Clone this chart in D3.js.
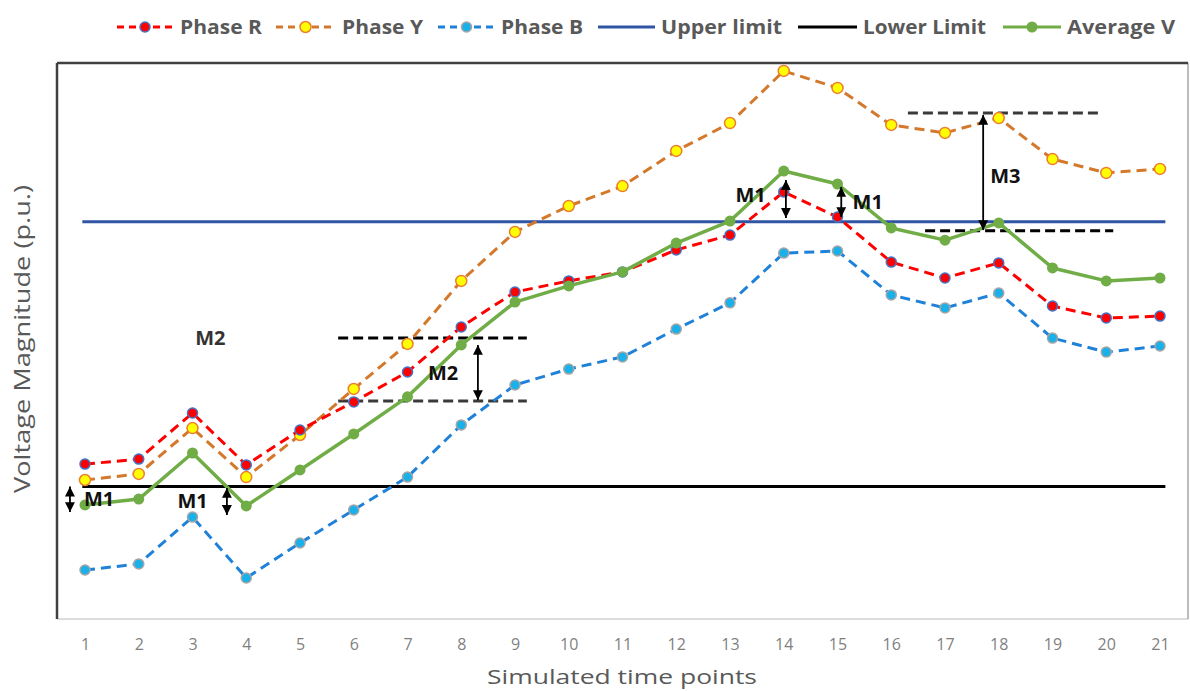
<!DOCTYPE html>
<html>
<head>
<meta charset="utf-8">
<script src="https://cdn.jsdelivr.net/npm/d3@7/dist/d3.min.js"></script>
<style>
  html, body { margin: 0; padding: 0; background: #fff; }
  svg { display: block; }
</style>
</head>
<body>
<svg id="chart" width="1190" height="691"></svg>
<script>
// ---------- data ----------
const timePoints = d3.range(1, 22);
const phaseR = [0.9585, 0.9604, 0.9778, 0.9582, 0.9714, 0.9820, 0.9933, 1.0103, 1.0235, 1.0277, 1.0311,
                1.0394, 1.0450, 1.0613, 1.0518, 1.0348, 1.0288, 1.0345, 1.0182, 1.0137, 1.0144];
const phaseY = [0.9525, 0.9548, 0.9721, 0.9536, 0.9695, 0.9869, 1.0039, 1.0277, 1.0462, 1.0560, 1.0635,
                1.0768, 1.0873, 1.1070, 1.1006, 1.0866, 1.0836, 1.0892, 1.0737, 1.0685, 1.0700];
const phaseB = [0.9185, 0.9208, 0.9385, 0.9155, 0.9287, 0.9412, 0.9536, 0.9733, 0.9884, 0.9944, 0.9990,
                1.0095, 1.0194, 1.0382, 1.0390, 1.0224, 1.0175, 1.0231, 1.0061, 1.0008, 1.0031];
const averageV = [0.9431, 0.9453, 0.9627, 0.9427, 0.9563, 0.9699, 0.9839, 1.0035, 1.0197, 1.0258, 1.0311,
                  1.0420, 1.0503, 1.0692, 1.0643, 1.0477, 1.0431, 1.0496, 1.0326, 1.0277, 1.0288];
const upperLimit = 1.05;
const lowerLimit = 0.95;
const legendLabels = ["Phase R", "Phase Y", "Phase B", "Upper limit", "Lower Limit", "Average V"];
const xTitle = "Simulated time points";
const yTitle = "Voltage Magnitude (p.u.)";

// annotation guides (in data units: time index, p.u.)
const guideLines = [
  {x0: 5.71, x1: 9.22, y: 1.0061, shadow: false},
  {x0: 5.71, x1: 9.22, y: 0.9823, shadow: true},
  {x0: 16.31, x1: 19.85, y: 1.0911, shadow: true},
  {x0: 16.63, x1: 20.13, y: 1.0466, shadow: false}
];
const arrows = [
  {x: 0.72, y0: 0.9500, y1: 0.9404},
  {x: 3.64, y0: 0.9495, y1: 0.9393},
  {x: 14.04, y0: 1.0658, y1: 1.0515},
  {x: 15.07, y0: 1.0632, y1: 1.0518},
  {x: 8.31, y0: 1.0035, y1: 0.9827},
  {x: 17.71, y0: 1.0904, y1: 1.0469}
];
const notes = [
  {x: 0.98, y: 0.9453, text: "M1", color: "#111"},
  {x: 2.72, y: 0.9445, text: "M1", color: "#111"},
  {x: 13.1, y: 1.0601, text: "M1", color: "#111"},
  {x: 15.28, y: 1.0575, text: "M1", color: "#111"},
  {x: 7.38, y: 0.9929, text: "M2", color: "#111"},
  {x: 17.84, y: 1.0672, text: "M3", color: "#111"},
  {x: 3.05, y: 1.0061, text: "M2", color: "#333"}
];

// ---------- layout ----------
const svg = d3.select("#chart");
const frame = {left: 57, top: 63, right: 1188, bottom: 619};
const x = d3.scaleLinear().domain([1, 21]).range([85, 1160]);
const y = d3.scaleLinear().domain([0.9, 1.11]).range([frame.bottom, frame.top]);

const defs = svg.append("defs");
defs.append("filter").attr("id", "blur").attr("x", "-10%").attr("y", "-200%")
  .attr("width", "120%").attr("height", "500%")
  .append("feGaussianBlur").attr("stdDeviation", 1.6);
["start", "end"].forEach(k => {
  defs.append("marker").attr("id", "arrow-" + k)
    .attr("viewBox", "0 0 10 10").attr("refX", k === "end" ? 10 : 0).attr("refY", 5)
    .attr("markerWidth", 5.5).attr("markerHeight", 5.5).attr("markerUnits", "strokeWidth")
    .attr("orient", "auto")
    .append("path")
    .attr("d", k === "end" ? "M0,0 L10,5 L0,10 Z" : "M10,0 L0,5 L10,10 Z")
    .attr("fill", "#000");
});

// frame
svg.append("line").attr("x1", frame.left).attr("x2", frame.right).attr("y1", frame.bottom).attr("y2", frame.bottom)
  .attr("stroke", "#d0d0d0").attr("stroke-width", 1.5);
svg.append("line").attr("x1", frame.right).attr("x2", frame.right).attr("y1", frame.top).attr("y2", frame.bottom)
  .attr("stroke", "#a6a6a6").attr("stroke-width", 1.5);
svg.append("line").attr("x1", frame.left).attr("x2", frame.right).attr("y1", frame.top).attr("y2", frame.top)
  .attr("stroke", "#404040").attr("stroke-width", 2.5);
svg.append("line").attr("x1", frame.left).attr("x2", frame.left).attr("y1", frame.top).attr("y2", frame.bottom)
  .attr("stroke", "#404040").attr("stroke-width", 2.5);

// x axis tick labels
const xAxis = d3.axisBottom(x).tickValues(timePoints).tickSize(0).tickPadding(0).tickFormat(d3.format("d"));
const gx = svg.append("g").attr("transform", `translate(0,${frame.bottom + 20})`).call(xAxis);
gx.select(".domain").remove();
gx.selectAll("text").attr("font-family", "'Liberation Sans Narrow', 'Open Sans', sans-serif")
  .attr("font-size", 16).attr("fill", "#7f7f7f").attr("dy", "0.71em");

// axis titles
svg.append("text").attr("x", 622).attr("y", 684).attr("text-anchor", "middle")
  .attr("font-family", "'Open Sans', sans-serif").attr("font-size", 20).attr("fill", "#595959")
  .attr("textLength", 270).attr("lengthAdjust", "spacingAndGlyphs").text(xTitle);
svg.append("text").attr("transform", "translate(30,339) rotate(-90)").attr("text-anchor", "middle")
  .attr("font-family", "'Open Sans', sans-serif").attr("font-size", 21).attr("fill", "#595959")
  .attr("textLength", 308).attr("lengthAdjust", "spacingAndGlyphs").text(yTitle);

// limit lines
svg.append("line").attr("x1", x(0.95)).attr("x2", x(21.1)).attr("y1", y(upperLimit)).attr("y2", y(upperLimit))
  .attr("stroke", "#2f55a4").attr("stroke-width", 3);
svg.append("line").attr("x1", x(0.95)).attr("x2", x(21.1)).attr("y1", y(lowerLimit)).attr("y2", y(lowerLimit))
  .attr("stroke", "#000").attr("stroke-width", 3);

// guide dashed lines
guideLines.forEach(g => {
  if (g.shadow) {
    svg.append("line").attr("x1", x(g.x0)).attr("x2", x(g.x1)).attr("y1", y(g.y) + 2).attr("y2", y(g.y) + 2)
      .attr("stroke", "#9a9a9a").attr("stroke-width", 5).attr("filter", "url(#blur)");
  }
  svg.append("line").attr("x1", x(g.x0)).attr("x2", x(g.x1)).attr("y1", y(g.y)).attr("y2", y(g.y))
    .attr("stroke", g.shadow ? "#3a3a3a" : "#000").attr("stroke-width", 3).attr("stroke-dasharray", "10,5");
});

// series
const line = d3.line().x((d, i) => x(timePoints[i])).y(d => y(d));
const series = [
  {vals: phaseR, stroke: "#ff0000", dash: "10,6", fill: "#ff0000", mstroke: "#4472c4", r: 5},
  {vals: phaseY, stroke: "#d4782c", dash: "10,6", fill: "#ffff00", mstroke: "#ed7d31", r: 5.5},
  {vals: phaseB, stroke: "#1f82d8", dash: "10,6", fill: "#1ab0ea", mstroke: "#a5a5a5", r: 5},
  {vals: averageV, stroke: "#70ad47", dash: null, fill: "#70ad47", mstroke: "none", r: 5.5}
];
[series[2], series[1], series[0], series[3]].forEach(s => {
  svg.append("path").datum(s.vals).attr("d", line).attr("fill", "none")
    .attr("stroke", s.stroke).attr("stroke-width", s.dash ? 3 : 3.5)
    .attr("stroke-dasharray", s.dash).attr("stroke-linejoin", "round");
  svg.append("g").selectAll("circle").data(s.vals).join("circle")
    .attr("cx", (d, i) => x(timePoints[i])).attr("cy", d => y(d)).attr("r", s.r)
    .attr("fill", s.fill).attr("stroke", s.mstroke).attr("stroke-width", s.mstroke === "none" ? 0 : 1.5);
});

// arrows
arrows.forEach(a => {
  svg.append("line").attr("x1", x(a.x)).attr("x2", x(a.x)).attr("y1", y(a.y0)).attr("y2", y(a.y1))
    .attr("stroke", "#000").attr("stroke-width", 1.8)
    .attr("marker-start", "url(#arrow-start)").attr("marker-end", "url(#arrow-end)");
});

// notes
svg.append("g").selectAll("text").data(notes).join("text")
  .attr("x", d => x(d.x)).attr("y", d => y(d.y)).attr("dy", "0.35em")
  .attr("font-family", "'Open Sans', sans-serif").attr("font-weight", 700).attr("font-size", 20)
  .attr("fill", d => d.color).text(d => d.text);

// legend
const legendItems = [
  {label: legendLabels[0], x0: 117, x1: 173, tx: 180, tw: 82, stroke: "#ff0000", dash: "7,5", marker: series[0]},
  {label: legendLabels[1], x0: 276, x1: 335, tx: 342, tw: 81, stroke: "#d4782c", dash: "7,5", marker: series[1]},
  {label: legendLabels[2], x0: 438, x1: 495, tx: 501, tw: 82, stroke: "#1f82d8", dash: "7,5", marker: series[2]},
  {label: legendLabels[3], x0: 598, x1: 655, tx: 661, tw: 121, stroke: "#2f55a4", dash: null, marker: null},
  {label: legendLabels[4], x0: 798, x1: 857, tx: 863, tw: 123, stroke: "#000", dash: null, marker: null},
  {label: legendLabels[5], x0: 1003, x1: 1061, tx: 1067, tw: 108, stroke: "#70ad47", dash: null, marker: series[3]}
];
const lg = svg.append("g");
legendItems.forEach(it => {
  lg.append("line").attr("x1", it.x0).attr("x2", it.x1).attr("y1", 27).attr("y2", 27)
    .attr("stroke", it.stroke).attr("stroke-width", 3).attr("stroke-dasharray", it.dash);
  if (it.marker) {
    lg.append("circle").attr("cx", (it.x0 + it.x1) / 2).attr("cy", 27).attr("r", it.marker.r)
      .attr("fill", it.marker.fill).attr("stroke", it.marker.mstroke)
      .attr("stroke-width", it.marker.mstroke === "none" ? 0 : 1.5);
  }
  lg.append("text").attr("x", it.tx).attr("y", 27).attr("dy", "0.35em")
    .attr("font-family", "'Open Sans', sans-serif").attr("font-weight", 700).attr("font-size", 20)
    .attr("fill", "#595959").attr("textLength", it.tw).attr("lengthAdjust", "spacingAndGlyphs")
    .text(it.label);
});
</script>
</body>
</html>
